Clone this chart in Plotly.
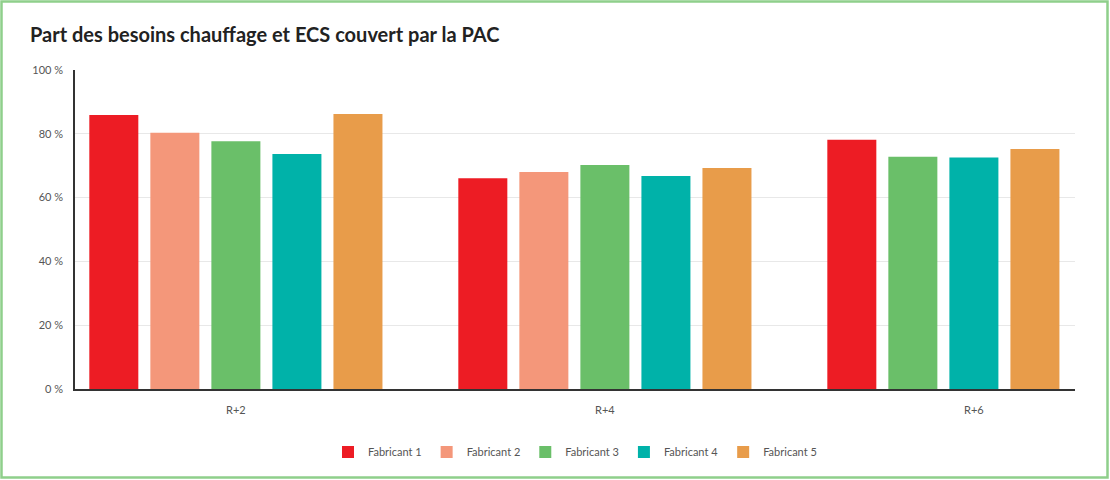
import plotly.graph_objects as go

categories = ["R+2", "R+4", "R+6"]
series_names = ["Fabricant 1", "Fabricant 2", "Fabricant 3", "Fabricant 4", "Fabricant 5"]
fab1 = [85.9, 66.1, 78.1]
fab2 = [80.3, 68.0, None]
fab3 = [77.7, 70.2, 72.8]
fab4 = [73.7, 66.8, 72.6]
fab5 = [86.2, 69.3, 75.2]
y_ticks = [0, 20, 40, 60, 80, 100]
y_tick_labels = ["0 %", "20 %", "40 %", "60 %", "80 %", "100 %"]

series = [fab1, fab2, fab3, fab4, fab5]
colors = ["#ed1c24", "#f4977a", "#6abf69", "#00b2a9", "#e89c4a"]

W, H = 1110, 480
ml, mr, mt, mb = 75, 35, 70, 91

fig = go.Figure()
# Bars in each category are packed into consecutive slots (missing series leave no gap)
for si, (name, vals) in enumerate(zip(series_names, series)):
    first = True
    for ci, cat in enumerate(categories):
        v = vals[ci]
        if v is None:
            continue
        slot = sum(1 for sj in range(si) if series[sj][ci] is not None)
        fig.add_trace(go.Bar(
            x=[cat], y=[v], name=name, legendgroup=name, showlegend=first,
            offsetgroup=str(slot), marker=dict(color=colors[si], line=dict(width=0)),
            hovertemplate=name + " %{x}: %{y} %<extra></extra>",
        ))
        first = False

x0px, x1px = 1.5, W - 2.5
y0px, y1px = 1.5, H - 2.5
pw, ph = W - ml - mr, H - mt - mb

fig.update_layout(
    width=W, height=H,
    margin=dict(l=ml, r=mr, t=mt, b=mb),
    paper_bgcolor="white", plot_bgcolor="white",
    barmode="group", bargap=0.173, bargroupgap=0.197,
    font=dict(family="Lato, 'Open Sans', sans-serif", color="#555555", size=11),
    title=dict(text="<b>Part des besoins chauffage et ECS couvert par la PAC</b>",
               xref="container", yref="container", x=30 / W, xanchor="left",
               y=1 - 35 / H, yanchor="middle",
               font=dict(family="Lato, 'Open Sans', sans-serif", size=20, color="#222222")),
    legend=dict(orientation="h", x=0.5, xanchor="center", y=-(452 - (H - mb)) / ph,
                yanchor="middle", font=dict(size=11, color="#555555"),
                itemwidth=30, traceorder="normal", itemclick=False),
    showlegend=True,
)
fig.update_xaxes(type="category", categoryorder="array", categoryarray=categories,
                 range=[-0.436, 2.274], showline=True, linecolor="#333333", linewidth=1.5,
                 showgrid=False, ticks="", tickfont=dict(size=11, color="#555555"), ticklabelstandoff=10)
fig.update_yaxes(range=[0, 100], tickmode="array", tickvals=y_ticks, ticktext=y_tick_labels,
                 showline=True, linecolor="#333333", linewidth=1.5, showgrid=True, gridcolor="#e8e8e8",
                 gridwidth=1, zeroline=False, ticks="", tickfont=dict(size=11, color="#555555"),
                 ticklabelstandoff=8)

# green page border
fig.add_shape(type="rect", xref="paper", yref="paper",
              x0=(x0px - ml) / pw, x1=(x1px - ml) / pw,
              y0=1 - (y1px - mt) / ph, y1=1 - (y0px - mt) / ph,
              line=dict(color="#8fcf8b", width=2.5), fillcolor="rgba(0,0,0,0)", layer="above")

fig.write_html("out.html")
